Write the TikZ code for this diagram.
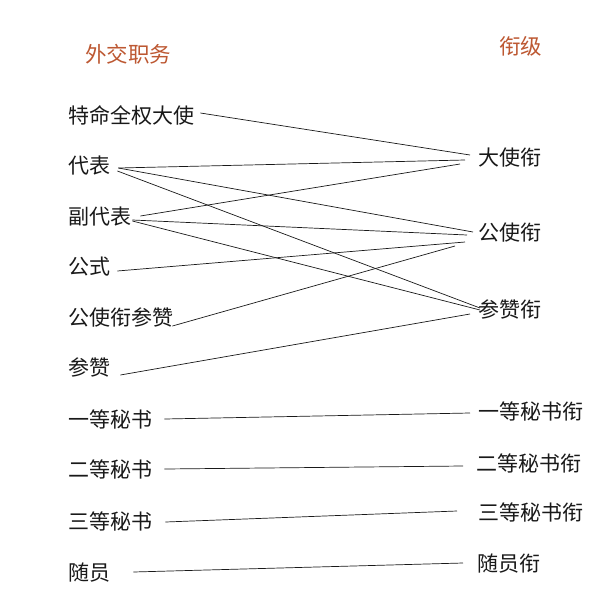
\documentclass[tikz,border=0pt]{standalone}
\usepackage{fontspec}
\setmainfont{Noto Sans CJK SC}
\definecolor{hdr}{RGB}{189,88,50}
\definecolor{ink}{RGB}{25,25,25}
\begin{document}
\begin{tikzpicture}[x=1pt,y=-1pt,
  lab/.style={inner sep=0pt,font=\fontsize{21}{21}\selectfont,text=ink},
  lft/.style={lab,anchor=base west},
  rgt/.style={lab,anchor=base west},
  head/.style={inner sep=0pt,anchor=base west,font=\fontsize{21.5}{21.5}\selectfont,text=hdr},
  link/.style={draw=ink,line width=0.7pt}]
\useasboundingbox[fill=white] (0,0) rectangle (600,600);
% headers
\node[head] (h1) at (85,62) {外交职务};
\node[head] (h2) at (499,54) {衔级};
% left column
\node[lft] (tq) at (68,123) {特命全权大使};
\node[lft] (db) at (68,173) {代表};
\node[lft] (fdb) at (68,224) {副代表};
\node[lft] (gs) at (68,274) {公式};
\node[lft] (gscz) at (68,325) {公使衔参赞};
\node[lft] (cz) at (68,375) {参赞};
\node[lft] (yd) at (68,427) {一等秘书};
\node[lft] (ed) at (68,477) {二等秘书};
\node[lft] (sd) at (68,529) {三等秘书};
\node[lft] (sy) at (68,580) {随员};
% right column
\node[rgt] (ds) at (478,165) {大使衔};
\node[rgt] (gsx) at (478,240) {公使衔};
\node[rgt] (czx) at (478,317) {参赞衔};
\node[rgt] (ydx) at (478,419) {一等秘书衔};
\node[rgt] (edx) at (476,471) {二等秘书衔};
\node[rgt] (sdx) at (478,520) {三等秘书衔};
\node[rgt] (syx) at (477,571) {随员衔};
% connectors
\draw[link] ([shift={(6,-10)}]tq.base east) -- ([shift={(-8,-10)}]ds.base west);
\draw[link] ([shift={(8,-5)}]db.base east) -- ([shift={(-13,-5)}]ds.base west);
\draw[link] ([shift={(8,-5)}]db.base east) -- ([shift={(-5,-8)}]gsx.base west);
\draw[link] ([shift={(7,-2)}]db.base east) -- ([shift={(2,-9)}]czx.base west);
\draw[link] ([shift={(9,-8)}]fdb.base east) -- ([shift={(-18,-1)}]ds.base west);
\draw[link] ([shift={(1,-4)}]fdb.base east) -- ([shift={(-11,-5)}]gsx.base west);
\draw[link] ([shift={(1,-3)}]fdb.base east) -- ([shift={(2,-7)}]czx.base west);
\draw[link] ([shift={(7,-3)}]gs.base east) -- ([shift={(-13,2)}]gsx.base west);
\draw[link] ([shift={(-1,1)}]gscz.base east) -- ([shift={(-23,6)}]gsx.base west);
\draw[link] ([shift={(10,0)}]cz.base east) -- ([shift={(-8,-3)}]czx.base west);
\draw[link] ([shift={(12,-8)}]yd.base east) -- ([shift={(-8,-6)}]ydx.base west);
\draw[link] ([shift={(12,-8)}]ed.base east) -- ([shift={(-13,-5)}]edx.base west);
\draw[link] ([shift={(13,-7)}]sd.base east) -- ([shift={(-21,-9)}]sdx.base west);
\draw[link] ([shift={(23,-8)}]sy.base east) -- ([shift={(-14,-8)}]syx.base west);
\end{tikzpicture}
\end{document}
